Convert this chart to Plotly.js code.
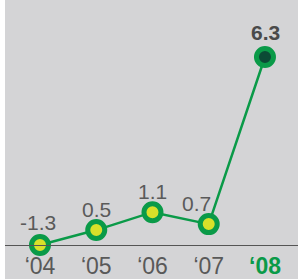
<!DOCTYPE html>
<html><head><meta charset="utf-8">
<script src="https://cdn.plot.ly/plotly-3.0.1.min.js"></script>
<style>html,body{margin:0;padding:0;background:#fff;}#chart{position:absolute;left:5px;top:0;width:293px;height:279px;}</style>
</head><body><div id="chart"></div>
<script>
const years = ['‘04','‘05','‘06','‘07','‘08'];
const labels = ['-1.3','0.5','1.1','0.7','6.3'];
const plotted = [0, 0.5, 1.1, 0.7, 6.3];
const xs = years.map((_, i) => i);
const green = '#0a9a48';
const last = years.length - 1;
const inner = xs.map(i => i === last ? '#0b4a35' : '#d8e02a');
const tickText = years.map((t, i) => i === last ? '<b><span style="color:' + green + '">' + t + '</span></b>' : t);
const xShift = [-2, 0, 0, -12, 1];
const yShift = [9, 7, 7, 7, 11];
const trace = {
  x: xs, y: plotted, mode: 'lines+markers',
  line: {color: green, width: 2.5},
  marker: {size: 17, color: inner, line: {color: green, width: 5}},
  cliponaxis: false, hoverinfo: 'none'
};
const annotations = xs.map(i => ({
  x: i, y: plotted[i], xref: 'x', yref: 'y',
  text: i === last ? '<b>' + labels[i] + '</b>' : labels[i],
  showarrow: false, xanchor: 'center', yanchor: 'bottom',
  xshift: xShift[i], yshift: yShift[i],
  font: {family: 'Arial, Liberation Sans', size: 21, color: i === last ? '#4a4a4a' : '#5a5a5a'}
}));
const layout = {
  width: 293, height: 279,
  margin: {l: 0, r: 0, t: 0, b: 34, pad: 0},
  paper_bgcolor: '#d4d4d6', plot_bgcolor: '#d4d4d6',
  showlegend: false, annotations: annotations,
  xaxis: {range: [-0.622, 4.587], tickvals: xs, ticktext: tickText, showgrid: false, zeroline: false,
          showline: true, linecolor: '#555', linewidth: 1, ticks: '', ticklabelstandoff: 0,
          tickfont: {family: 'Arial, Liberation Sans', size: 23, color: '#595959'}, fixedrange: true},
  yaxis: {range: [0, 8.21], visible: false, fixedrange: true},
  font: {family: 'Arial, Liberation Sans'}
};
Plotly.newPlot('chart', [trace], layout, {staticPlot: true, displayModeBar: false});
</script></body></html>
